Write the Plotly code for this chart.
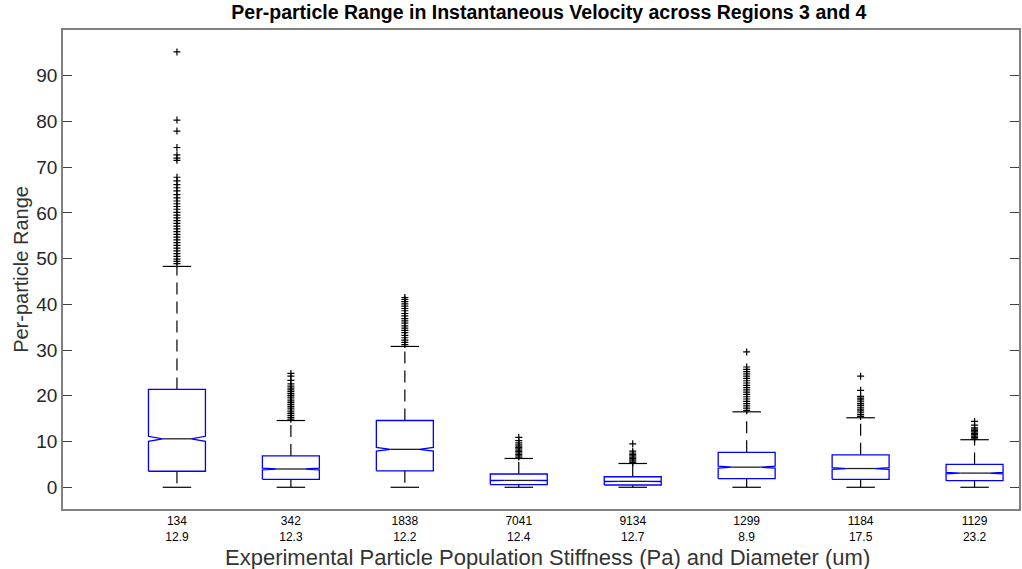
import plotly.graph_objects as go

# ---- data ----
stiffness = ["134", "342", "1838", "7041", "9134", "1299", "1184", "1129"]
diameter = ["12.9", "12.3", "12.2", "12.4", "12.7", "8.9", "17.5", "23.2"]

lower_whisker = [0.0, 0.0, 0.0, 0.0, 0.0, 0.0, 0.0, 0.0]
q1 = [3.5, 1.75, 3.6, 0.6, 0.5, 1.9, 1.75, 1.45]
median = [10.6, 4.0, 8.3, 1.5, 1.3, 4.4, 4.1, 3.1]
q3 = [21.4, 6.85, 14.6, 2.9, 2.3, 7.65, 7.1, 5.0]
upper_whisker = [48.3, 14.6, 30.8, 6.3, 5.2, 16.5, 15.2, 10.4]
notch_half = [0.55, 0.2, 0.4, 0.05, 0.04, 0.2, 0.2, 0.15]

outliers = [
    [95.2, 80.3, 77.9, 74.3, 72.7, 72.0, 71.5, 67.8, 67.0, 66.2, 65.5, 64.8, 64.0,
     63.3, 62.6, 62.0, 61.4, 60.8, 60.1, 59.5, 58.9, 58.3, 57.7, 57.1, 56.5, 55.9,
     55.3, 54.7, 54.1, 53.5, 52.9, 52.3, 51.7, 51.1, 50.5, 49.9, 49.4, 48.9],
    [14.9, 15.3, 15.7, 16.1, 16.5, 16.9, 17.3, 17.7, 18.1, 18.5, 18.9, 19.3, 19.7,
     20.1, 20.5, 20.9, 21.3, 21.7, 22.1, 22.6, 23.4, 24.3, 24.9],
    [31.2, 31.7, 32.2, 32.7, 33.2, 33.8, 34.3, 34.8, 35.3, 35.9, 36.4, 36.9, 37.5,
     38.0, 38.6, 39.1, 39.6, 40.1, 40.6, 41.1, 41.5],
    [6.6, 6.9, 7.2, 7.5, 7.8, 8.1, 8.4, 8.7, 9.0, 9.3, 9.7, 10.2, 10.9],
    [5.4, 5.7, 6.0, 6.3, 6.6, 6.9, 7.2, 7.5, 7.9, 9.5],
    [16.8, 17.3, 17.8, 18.3, 18.8, 19.3, 19.8, 20.3, 20.8, 21.3, 21.8, 22.3, 22.8,
     23.3, 23.8, 24.3, 24.8, 25.3, 25.8, 26.3, 29.6],
    [15.5, 15.9, 16.3, 16.7, 17.1, 17.5, 17.9, 18.3, 18.7, 19.1, 19.5, 19.9, 21.2, 24.3],
    [10.6, 10.9, 11.2, 11.5, 11.8, 12.1, 12.4, 12.7, 13.0, 13.6, 14.4],
]

y_ticks = [0, 10, 20, 30, 40, 50, 60, 70, 80, 90]

# ---- geometry (style) ----
HW = 0.25  # box half width
CAP = 0.125

positions = list(range(1, len(stiffness) + 1))

box_x, box_y = [], []
med_x, med_y = [], []
wh_x, wh_y = [], []
cap_x, cap_y = [], []
out_x, out_y = [], []
for i, p in enumerate(positions):
    m = median[i]
    nlo, nhi = m - notch_half[i], m + notch_half[i]
    box_x += [p - HW, p - HW, p - HW / 2, p - HW, p - HW, p + HW, p + HW, p + HW / 2,
              p + HW, p + HW, p - HW, None]
    box_y += [q1[i], nlo, m, nhi, q3[i], q3[i], nhi, m, nlo, q1[i], q1[i], None]
    med_x += [p - HW / 2, p + HW / 2, None]
    med_y += [m, m, None]
    wh_x += [p, p, None, p, p, None]
    wh_y += [q3[i], upper_whisker[i], None, q1[i], lower_whisker[i], None]
    cap_x += [p - CAP, p + CAP, None, p - CAP, p + CAP, None]
    cap_y += [upper_whisker[i], upper_whisker[i], None, lower_whisker[i], lower_whisker[i], None]
    out_x += [p] * len(outliers[i])
    out_y += outliers[i]

fig = go.Figure()
fig.add_trace(go.Scatter(x=wh_x, y=wh_y, mode="lines",
                         line=dict(color="black", width=1.2, dash="12px,7px"),
                         hoverinfo="skip", showlegend=False))
fig.add_trace(go.Scatter(x=cap_x, y=cap_y, mode="lines",
                         line=dict(color="black", width=1.2),
                         hoverinfo="skip", showlegend=False))
fig.add_trace(go.Scatter(x=box_x, y=box_y, mode="lines",
                         line=dict(color="#0000ff", width=1.3),
                         hoverinfo="skip", showlegend=False))
fig.add_trace(go.Scatter(x=med_x, y=med_y, mode="lines",
                         line=dict(color="#222222", width=1.3),
                         hoverinfo="skip", showlegend=False))
fig.add_trace(go.Scatter(x=out_x, y=out_y, mode="markers",
                         marker=dict(symbol="cross-thin", size=5,
                                     line=dict(color="black", width=1.2)),
                         hoverinfo="skip", showlegend=False))

fig.update_layout(
    width=1022, height=569,
    margin=dict(l=63, r=1, t=30, b=60),
    paper_bgcolor="white", plot_bgcolor="white",
    font=dict(family="Liberation Sans, Arial, sans-serif", color="#262626"),
    title=dict(text="<b>Per-particle Range in Instantaneous Velocity across Regions 3 and 4</b>",
               x=0.537, xanchor="center", y=0.99, yanchor="top",
               font=dict(size=19.5, color="black")),
    showlegend=False,
    annotations=[dict(
        text="Experimental Particle Population Stiffness (Pa) and Diameter (um)",
        xref="paper", yref="paper", x=0.507, y=0, xanchor="center", yanchor="top",
        yshift=-34, showarrow=False, font=dict(size=22, color="#333333"),
    )],
)
fig.update_xaxes(
    range=[0, 8.39],
    tickmode="array", tickvals=positions,
    ticktext=[f"{s}<br>{d}" for s, d in zip(stiffness, diameter)],
    tickfont=dict(size=12, color="black"),
    ticks="", showgrid=False, zeroline=False,
    showline=True, linecolor="#808080", linewidth=1.5, mirror=True,
)
fig.update_yaxes(
    range=[-4.75, 100],
    tickmode="array", tickvals=y_ticks,
    tickfont=dict(size=19, color="#262626"),
    ticks="inside", ticklen=9, tickcolor="#404040", tickwidth=1,
    showgrid=False, zeroline=False,
    showline=True, linecolor="#808080", linewidth=1.5, mirror="ticks",
    title=dict(text="Per-particle Range", font=dict(size=20, color="#333333"), standoff=2),
)

fig.write_html("out.html")
